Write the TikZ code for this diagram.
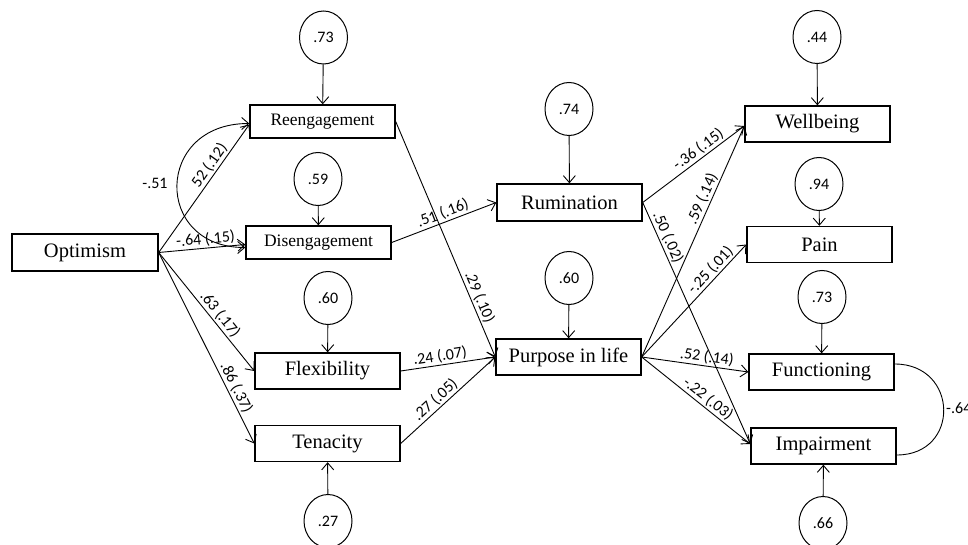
\documentclass[tikz,border=0pt]{standalone}
\usepackage{fontspec}
\setmainfont{Liberation Serif}
\newfontfamily\labfont{Carlito}
\usetikzlibrary{shapes.geometric,arrows.meta,calc}
\tikzset{
  box/.style={draw, line width=1.4pt, minimum width=145pt, minimum height=36pt, inner sep=0pt, font=\fontsize{20.5}{24}\selectfont},
  sbox/.style={box, minimum height=33pt, font=\fontsize{17.5}{21}\selectfont},
  err/.style={draw, ellipse, line width=1pt, minimum width=48pt, minimum height=53pt, inner sep=0pt, font=\labfont\fontsize{16}{18}\selectfont},
  arr/.style={line width=0.9pt, -{Straight Barb[length=7pt,width=12pt]}},
  darr/.style={line width=0.9pt, {Straight Barb[length=7pt,width=12pt]}-{Straight Barb[length=7pt,width=12pt]}},
  lbl/.style={font=\labfont\fontsize{16}{18}\selectfont, sloped, above, inner sep=1.5pt},
  plbl/.style={font=\labfont\fontsize{16}{18}\selectfont, inner sep=0pt}
}
\begin{document}
\begin{tikzpicture}[x=1pt,y=-1pt]
\useasboundingbox (0,0) rectangle (968,545);
% boxes
\node[box, minimum width=146pt, minimum height=37pt] (opt) at (85,252.5) {Optimism};
\node[sbox] (reeng) at (322.5,121.5) {Reengagement};
\node[sbox] (diseng) at (318.5,242.5) {Disengagement};
\node[box] (flex) at (327.5,371) {Flexibility};
\node[box] (ten) at (327.5,443.5) {Tenacity};
\node[box, minimum height=37pt] (rum) at (569.5,202.5) {Rumination};
\node[box] (pur) at (568.5,357) {Purpose in life};
\node[box] (well) at (817.5,124) {Wellbeing};
\node[box] (pain) at (819.5,244.5) {Pain};
\node[box] (func) at (821.5,372) {Functioning};
\node[box] (imp) at (823.5,446) {Impairment};
% error terms
\node[err] (e1) at (323.5,37.5) {.73};
\node[err] (e2) at (318,179) {.59};
\node[err] (e3) at (328,298) {.60};
\node[err] (e4) at (328,521) {.27};
\node[err] (e5) at (569,109) {.74};
\node[err] (e6) at (569,278) {.60};
\node[err] (e7) at (817,37) {.44};
\node[err] (e8) at (819,184) {.94};
\node[err] (e9) at (822,297) {.73};
\node[err] (e10) at (823,523) {.66};
% error arrows
\draw[arr] (e1) -- (reeng);
\draw[arr] (e2) -- (diseng);
\draw[arr] (e3) -- (flex);
\draw[arr] (e4) -- (ten);
\draw[arr] (e5) -- (rum);
\draw[arr] (e6) -- (pur);
\draw[arr] (e7) -- (well);
\draw[arr] (e8) -- (pain);
\draw[arr] (e9) -- (func);
\draw[arr] (e10) -- (imp);
% paths from optimism
\draw[arr] (opt.east) -- node[lbl, pos=0.64] {52 (.12)} ($(reeng.west)+(0,3)$);
\draw[arr] (opt.east) -- node[lbl, pos=0.55] {-.64 (.15)} ($(diseng.west)+(0,2)$);
\draw[arr] (opt.east) -- node[lbl, pos=0.57] {.63 (.17)} (flex.west);
\draw[arr] (opt.east) -- node[lbl, pos=0.73] {.86 (.37)} (ten.west);
% covariance -.51
\draw[darr] ($(reeng.west)+(0,2)$) .. controls +(-95,0) and +(-92,0) .. ($(diseng.west)+(0,5)$);
\node[plbl] (c1) at (155,183) {-.51};
% middle paths
\draw[arr] (reeng.east) -- node[lbl, pos=0.76] {.29 (.10)} (pur.west);
\draw[arr] (diseng.east) -- node[lbl, pos=0.52] {.51 (.16)} (rum.west);
\draw[arr] (flex.east) -- node[lbl, pos=0.43] {.24 (.07)} (pur.west);
\draw[arr] (ten.east) -- node[lbl, pos=0.43] {.27 (.05)} (pur.west);
% outcome paths
\draw[arr] (rum.east) -- node[lbl, pos=0.6] {-.36 (.15)} ($(well.west)+(0,2)$);
\draw[arr] (rum.east) -- node[lbl, pos=0.16] {.50 (.02)} ($(imp.west)+(0,-2)$);
\draw[arr] (pur.east) -- node[lbl, pos=0.67] {.59 (.14)} ($(well.west)+(0,2)$);
\draw[arr] (pur.east) -- node[lbl, pos=0.72] {-.25 (.01)} (pain.west);
\draw[arr] (pur.east) -- node[lbl, pos=0.6] {.52 (.14)} (func.west);
\draw[arr] (pur.east) -- node[lbl, pos=0.56] {-.22 (.03)} ($(imp.west)+(0,-2)$);
% covariance -.64
\draw[line width=0.9pt] ($(func.east)+(0,-8)$) .. controls +(64,0) and +(64,0) .. ($(imp.east)+(0,9)$);
\node[plbl, anchor=west] (c2) at (946,408) {-.64};
\end{tikzpicture}
\end{document}
